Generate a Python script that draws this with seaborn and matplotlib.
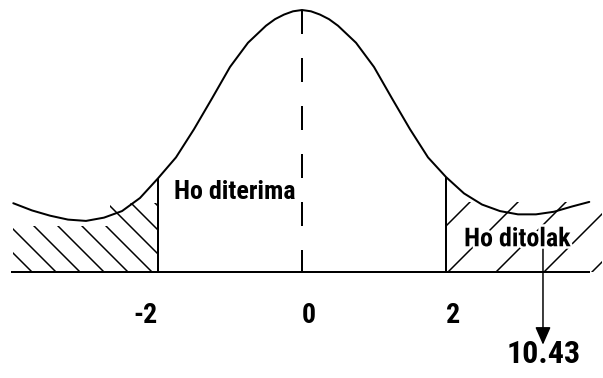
import numpy as np
import pandas as pd
import seaborn as sns
import matplotlib
matplotlib.use("Agg")
import matplotlib.pyplot as plt
import matplotlib.patheffects as pe
from matplotlib import font_manager

#%% data
z_vals = [-4.01, -3.75, -3.5, -3.25, -3.0, -2.75, -2.5, -2.25, -2.0, -1.75, -1.5,
          -1.25, -1.0, -0.75, -0.5, -0.375, -0.25, -0.125, 0.0, 0.125, 0.25, 0.375,
          0.5, 0.75, 1.0, 1.25, 1.5, 1.75, 2.0, 2.25, 2.5, 2.75, 3.0, 3.25, 3.5,
          3.75, 3.99]
dens = [0.105, 0.094, 0.086, 0.080, 0.078, 0.083, 0.093, 0.113, 0.143, 0.175, 0.218,
        0.265, 0.313, 0.350, 0.376, 0.386, 0.393, 0.398, 0.400, 0.398, 0.393, 0.386,
        0.376, 0.350, 0.313, 0.265, 0.218, 0.175, 0.145, 0.120, 0.103, 0.093, 0.088,
        0.088, 0.092, 0.100, 0.107]

crit = [-2, 2]
tick_vals = [-2, 0, 2]
tick_labels = ["-2", "0", "2"]
t_hit = "10.43"
accept_txt = "Ho diterima"
reject_txt = "Ho ditolak"

#%% font: narrow bold if there is one
names = {f.name for f in font_manager.fontManager.ttflist}
cands = ["Liberation Sans Narrow", "Roboto Condensed", "Open Sans Condensed",
         "DejaVu Sans Condensed", "Liberation Sans", "DejaVu Sans"]
narrow = next(c for c in cands if c in names)

DPI = 144
sns.set_style("white")
plt.rcParams["lines.scale_dashes"] = False
plt.rcParams["hatch.linewidth"] = 0.75
plt.rcParams["font.family"] = [narrow, "DejaVu Sans"]

fig = plt.figure(figsize=(603 / DPI, 378 / DPI), dpi=DPI)
ax = fig.add_axes([0, 0, 1, 1])
ax.set_xlim(-302 / 72, 301 / 72)
ax.set_ylim(-106 / 655, 272 / 655)
ax.axis("off")

df = pd.DataFrame({"z": z_vals, "f": dens})
sns.lineplot(data=df, x="z", y="f", color="black", lw=1.0, ax=ax, sort=False)

# baseline, critical lines, dashed centre line
ax.hlines(0, -4.04, 4.0, color="black", lw=1.0)
ax.vlines(crit, 0, np.interp(crit, z_vals, dens), color="black", lw=1.0)
ax.plot([0, 0], [max(dens), 0], color="black", lw=1.0, dashes=(12, 12))

# hatched rejection regions
ax.fill([-4.01, -4.01, -2.67, -2.67, -2, -2], [0, 0.070, 0.070, 0.105, 0.105, 0],
        facecolor="none", edgecolor="black", lw=0, hatch="\\\\")
ax.fill([2, 2, 4.17, 4.17], [0, 0.107, 0.107, 0],
        facecolor="none", edgecolor="black", lw=0, hatch="/")

tkw = dict(fontweight="heavy", fontstretch="condensed", color="black")
for v, lab in zip(tick_vals, tick_labels):
    ax.text(v, -0.067, lab, ha="right" if v < 0 else "left", va="center",
            fontsize=14, **tkw)

ax.text(-0.93, 0.122, accept_txt, ha="center", va="center", fontsize=13, **tkw)

# arrow to the t value (starts behind the label)
ax.annotate("", xy=(3.347, -0.111), xytext=(3.347, 0.041),
            arrowprops=dict(arrowstyle="-|>,head_length=0.75,head_width=0.33",
                            color="black", lw=0.75, shrinkA=0, shrinkB=0))
ax.text(2.99, 0.050, reject_txt, ha="center", va="center", fontsize=13,
        path_effects=[pe.withStroke(linewidth=2.5, foreground="white")], **tkw)
ax.text(3.36, -0.125, t_hit, ha="center", va="center", fontsize=16, **tkw)

fig.savefig("out.png", dpi=DPI)
